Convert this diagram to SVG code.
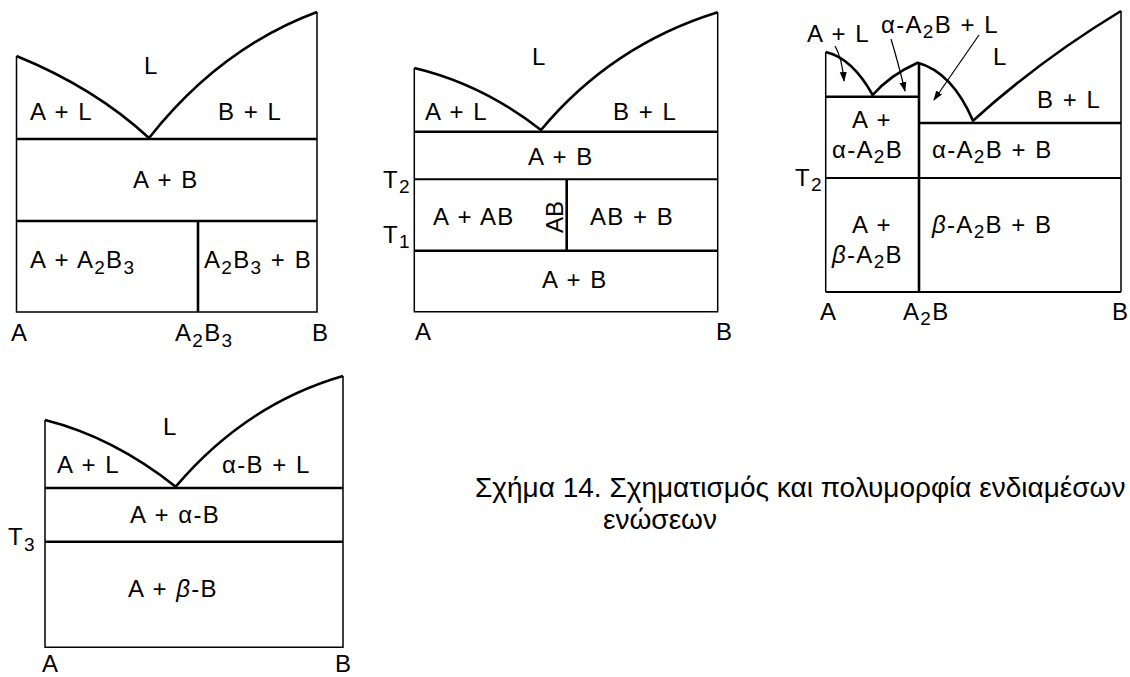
<svg xmlns="http://www.w3.org/2000/svg" width="1130" height="677" viewBox="0 0 1130 677">
<style>
.bg{fill:#fff}
.thin{fill:none;stroke:#000;stroke-width:1.5}
.thick{fill:none;stroke:#000;stroke-width:2.6;stroke-linejoin:round}
.med{fill:none;stroke:#000;stroke-width:2}
.t{font-family:"Liberation Sans",Arial,sans-serif;font-size:24px;letter-spacing:1.3px;word-spacing:0.5px;fill:#000}
.s{font-size:19px}
.cap{font-family:"Liberation Sans",Arial,sans-serif;font-size:28px;fill:#000}
.arr{fill:none;stroke:#000;stroke-width:1.2}
</style>
<defs>
<marker id="ah" markerUnits="userSpaceOnUse" markerWidth="10" markerHeight="10" viewBox="0 0 10 10" refX="9" refY="5" orient="auto">
<path d="M0,1.5 L10,5 L0,8.5 Z" fill="#000"/>
</marker>
</defs>
<rect class="bg" width="1130" height="677"/>

<g id="diagram1">
<path class="thin" d="M16.5,56 V312 H317 V12"/>
<path class="thick" d="M16.5,56 Q95,88 149,138 Q220,48 317,12"/>
<path class="thick" d="M16.5,139 H317 M16.5,221 H317 M198,221 V312"/>
<text class="t" x="144" y="74">L</text>
<text class="t" x="30" y="120">A + L</text>
<text class="t" x="218" y="120">B + L</text>
<text class="t" x="133" y="188">A + B</text>
<text class="t" x="30" y="268">A + A<tspan class="s" dy="6">2</tspan><tspan dy="-6">B</tspan><tspan class="s" dy="6">3</tspan></text>
<text class="t" x="204" y="268">A<tspan class="s" dy="6">2</tspan><tspan dy="-6">B</tspan><tspan class="s" dy="6">3</tspan><tspan dy="-6"> + B</tspan></text>
<text class="t" x="11" y="341">A</text>
<text class="t" x="175" y="341">A<tspan class="s" dy="6">2</tspan><tspan dy="-6">B</tspan><tspan class="s" dy="6">3</tspan></text>
<text class="t" x="312" y="341">B</text>
</g>

<g id="diagram2">
<path class="thin" d="M414.3,68 V311.7 H717.7 V12.3"/>
<path class="thick" d="M414.3,68 Q482,84 541,130 Q612,45 717.7,12.3"/>
<path class="thick" d="M414.3,131.7 H717.7 M414.3,250.7 H717.7 M566.7,179.3 V250.7"/>
<path class="med" d="M414.3,179.3 H717.7"/>
<text class="t" x="532" y="65">L</text>
<text class="t" x="425" y="120">A + L</text>
<text class="t" x="613" y="120">B + L</text>
<text class="t" x="528" y="165">A + B</text>
<text class="t" x="383" y="188">T<tspan class="s" dy="5">2</tspan></text>
<text class="t" x="433" y="225">A + AB</text>
<text class="t" transform="translate(563,217) rotate(-90)" text-anchor="middle" style="letter-spacing:0">AB</text>
<text class="t" x="590" y="225">AB + B</text>
<text class="t" x="383" y="243">T<tspan class="s" dy="5">1</tspan></text>
<text class="t" x="542" y="288">A + B</text>
<text class="t" x="415" y="340">A</text>
<text class="t" x="716" y="340">B</text>
</g>

<g id="diagram3">
<path class="thin" d="M825.7,52 V292 M1121,11 V292"/>
<path class="med" d="M825.7,292 H1121 M825.7,178 H1121"/>
<path class="thick" d="M825.7,52 Q852,58 872.7,95 Q890,75 917.7,62.7 Q952,72 973,120.7 Q1040,60 1121,11"/>
<path class="thick" d="M825.7,96.7 H919 M919,123 H1121 M919,63 V292"/>
<text class="t" x="807" y="42">A + L</text>
<text class="t" x="881" y="33">α-A<tspan class="s" dy="5">2</tspan><tspan dy="-5">B + L</tspan></text>
<text class="t" x="993" y="65">L</text>
<text class="t" x="1037" y="108">B + L</text>
<text class="t" x="852" y="128">A +</text>
<text class="t" x="832" y="158">α-A<tspan class="s" dy="5">2</tspan><tspan dy="-5">B</tspan></text>
<text class="t" x="932" y="158">α-A<tspan class="s" dy="5">2</tspan><tspan dy="-5">B + B</tspan></text>
<text class="t" x="795" y="186">T<tspan class="s" dy="5">2</tspan></text>
<text class="t" x="852" y="233">A +</text>
<text class="t" x="832" y="263"><tspan font-style="italic">β</tspan>-A<tspan class="s" dy="5">2</tspan><tspan dy="-5">B</tspan></text>
<text class="t" x="932" y="233"><tspan font-style="italic">β</tspan>-A<tspan class="s" dy="5">2</tspan><tspan dy="-5">B + B</tspan></text>
<text class="t" x="820" y="320">A</text>
<text class="t" x="903" y="320">A<tspan class="s" dy="5">2</tspan><tspan dy="-5">B</tspan></text>
<text class="t" x="1112" y="320">B</text>
</g>

<g id="diagram4">
<path class="thin" d="M45,420 V647.3 H343 V376"/>
<path class="thick" d="M45,420 Q113,437 175.7,486.7 Q246,404 343,376"/>
<path class="thick" d="M45,488 H343 M45,541.7 H343"/>
<text class="t" x="163" y="435">L</text>
<text class="t" x="57" y="473">A + L</text>
<text class="t" x="222" y="473">α-B + L</text>
<text class="t" x="130" y="523">A + α-B</text>
<text class="t" x="8" y="545">T<tspan class="s" dy="6">3</tspan></text>
<text class="t" x="128" y="597">A + <tspan font-style="italic">β</tspan>-B</text>
<text class="t" x="42" y="672">A</text>
<text class="t" x="335" y="672">B</text>
</g>

<g id="connectors">
<path class="arr" d="M835,46 Q842,58 844,81" marker-end="url(#ah)"/>
<path class="arr" d="M891,39 Q898,62 905,91" marker-end="url(#ah)"/>
<path class="arr" d="M979,35 L934,100" marker-end="url(#ah)"/>
</g>

<g id="caption">
<text class="cap" x="475" y="497">Σχήμα 14. Σχηματισμός και πολυμορφία ενδιαμέσων</text>
<text class="cap" x="603" y="529">ενώσεων</text>
</g>
</svg>
